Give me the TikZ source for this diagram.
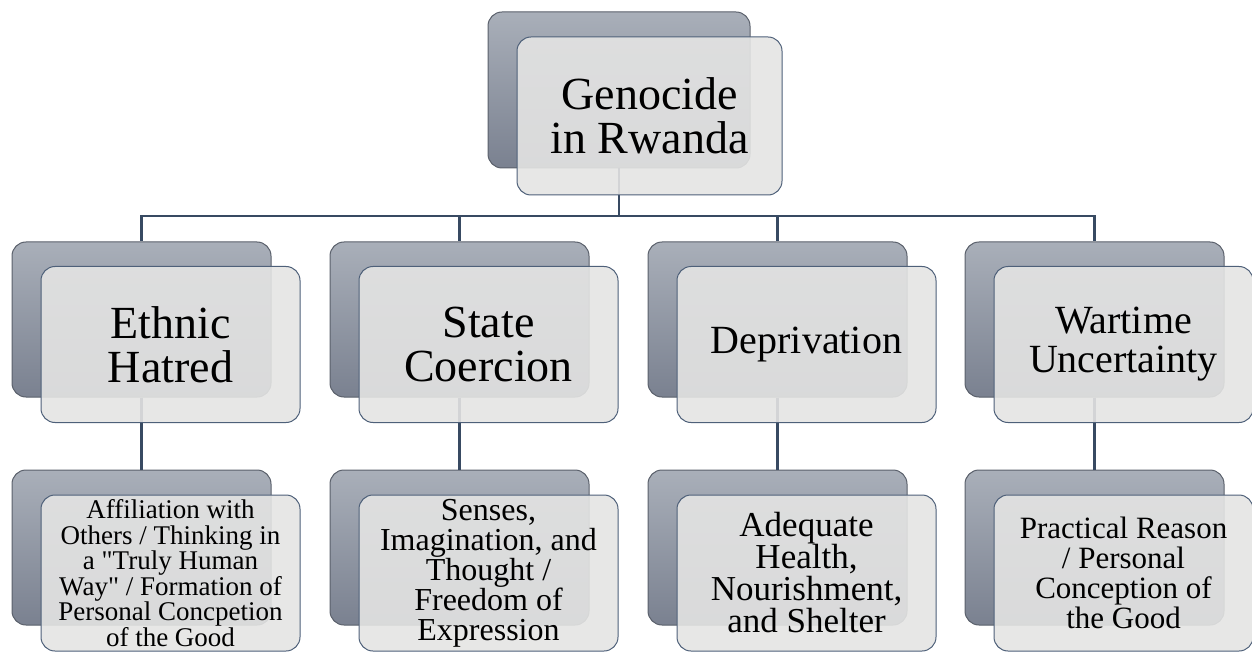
\documentclass[tikz,border=0pt]{standalone}
\usepackage{fontspec}
\setmainfont{Liberation Serif}
\definecolor{backtop}{HTML}{A9AFB9}
\definecolor{backbot}{HTML}{7A8190}
\definecolor{backline}{HTML}{5A606B}
\definecolor{frontfill}{HTML}{E4E4E3}
\definecolor{frontline}{HTML}{4E6079}
\definecolor{connline}{HTML}{384A62}
\tikzset{
  backbox/.style={rectangle, rounded corners=14pt, draw=backline, line width=1pt,
    top color=backtop, bottom color=backbot, minimum width=259pt, minimum height=155pt, inner sep=0pt},
  frontbox/.style={rectangle, rounded corners=14pt, draw=frontline, line width=1pt,
    fill=frontfill, fill opacity=0.9, text opacity=1, minimum width=259pt, minimum height=156pt,
    inner sep=2pt, align=center, text=black},
  conn/.style={draw=connline, line width=2.2pt},
}
\begin{document}
\begin{tikzpicture}[x=1pt,y=-1pt]
\useasboundingbox (0,0) rectangle (1252,652);
% back boxes
\node[backbox, minimum width=262pt, minimum height=156pt] (b0) at (619,90) {};
\node[backbox] (b1) at (141.5,319.5) {};
\node[backbox] (b2) at (459.5,319.5) {};
\node[backbox] (b3) at (777.5,319.5) {};
\node[backbox] (b4) at (1094.5,319.5) {};
\node[backbox] (c1) at (141.5,547.5) {};
\node[backbox] (c2) at (459.5,547.5) {};
\node[backbox] (c3) at (777.5,547.5) {};
\node[backbox] (c4) at (1094.5,547.5) {};
% connectors
\coordinate (bus) at (619,216);
\foreach \n in {b1,b2,b3,b4}{
  \draw[conn] (b0.south) -- (b0.south |- bus) -| (\n.north);
}
\draw[conn] (b1.south) -- (c1.north);
\draw[conn] (b2.south) -- (c2.north);
\draw[conn] (b3.south) -- (c3.north);
\draw[conn] (b4.south) -- (c4.north);
% front boxes
\node[frontbox, minimum width=265pt, minimum height=158pt, font=\fontsize{46}{44}\selectfont] (f0) at (649.5,116) {Genocide\\in Rwanda};
\node[frontbox, font=\fontsize{46}{44}\selectfont] (g1) at (170.5,344.5) {Ethnic\\Hatred};
\node[frontbox, font=\fontsize{46}{44}\selectfont] (g2) at (488.5,344.5) {State\\Coercion};
\node[frontbox, font=\fontsize{40}{39}\selectfont] (g3) at (806.5,344.5) {Deprivation};
\node[frontbox, font=\fontsize{40}{39}\selectfont] (g4) at (1123.5,344.5) {Wartime\\Uncertainty};
\node[frontbox, font=\fontsize{27}{25.5}\selectfont] (h1) at (170.5,573) {Affiliation with\\Others / Thinking in\\a \textquotedbl Truly Human\\Way\textquotedbl{} / Formation of\\Personal Concpetion\\of the Good};
\node[frontbox, font=\fontsize{32}{30}\selectfont] (h2) at (488.5,573) {Senses,\\Imagination, and\\Thought /\\Freedom of\\Expression};
\node[frontbox, font=\fontsize{35}{32}\selectfont] (h3) at (806.5,573) {Adequate\\Health,\\Nourishment,\\and Shelter};
\node[frontbox, font=\fontsize{31}{30}\selectfont] (h4) at (1123.5,573) {Practical Reason\\/ Personal\\Conception of\\the Good};
\end{tikzpicture}
\end{document}
